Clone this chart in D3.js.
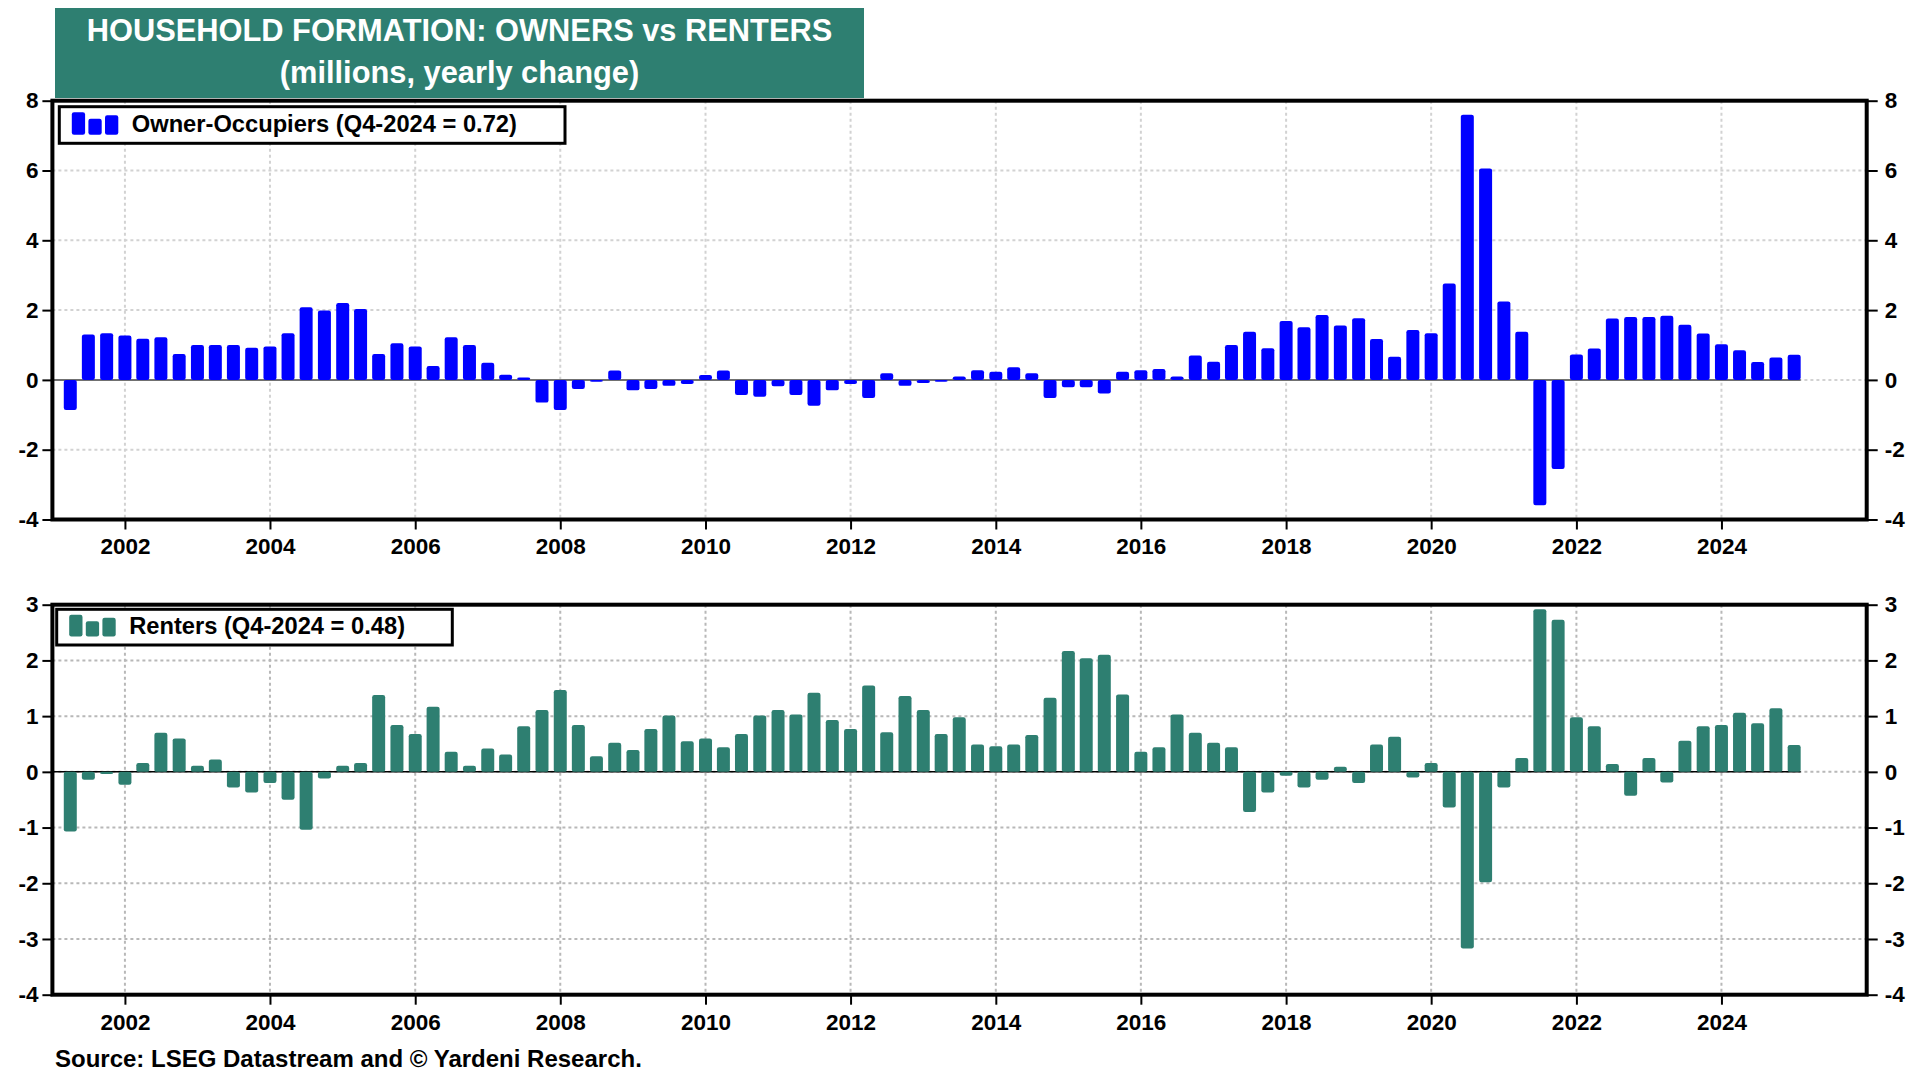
<!DOCTYPE html>
<html><head><meta charset="utf-8">
<script src="https://cdn.jsdelivr.net/npm/d3@7"></script>
<style>
html,body{margin:0;padding:0;background:#fff;}
svg{display:block;font-family:"Liberation Sans",Arial,Helvetica,sans-serif;}
</style></head><body>
<svg id="chart" width="1920" height="1080"></svg>
<script>
// ---------- DATA ----------
const quarters = [
"2001Q1","2001Q2","2001Q3","2001Q4","2002Q1","2002Q2","2002Q3","2002Q4",
"2003Q1","2003Q2","2003Q3","2003Q4","2004Q1","2004Q2","2004Q3","2004Q4",
"2005Q1","2005Q2","2005Q3","2005Q4","2006Q1","2006Q2","2006Q3","2006Q4",
"2007Q1","2007Q2","2007Q3","2007Q4","2008Q1","2008Q2","2008Q3","2008Q4",
"2009Q1","2009Q2","2009Q3","2009Q4","2010Q1","2010Q2","2010Q3","2010Q4",
"2011Q1","2011Q2","2011Q3","2011Q4","2012Q1","2012Q2","2012Q3","2012Q4",
"2013Q1","2013Q2","2013Q3","2013Q4","2014Q1","2014Q2","2014Q3","2014Q4",
"2015Q1","2015Q2","2015Q3","2015Q4","2016Q1","2016Q2","2016Q3","2016Q4",
"2017Q1","2017Q2","2017Q3","2017Q4","2018Q1","2018Q2","2018Q3","2018Q4",
"2019Q1","2019Q2","2019Q3","2019Q4","2020Q1","2020Q2","2020Q3","2020Q4",
"2021Q1","2021Q2","2021Q3","2021Q4","2022Q1","2022Q2","2022Q3","2022Q4",
"2023Q1","2023Q2","2023Q3","2023Q4","2024Q1","2024Q2","2024Q3","2024Q4"
];
const owners = [
-0.86, 1.30, 1.34, 1.27,   1.18, 1.22, 0.74, 1.00,
 1.00, 1.00, 0.92, 0.96,   1.34, 2.08, 1.99, 2.20,
 2.03, 0.74, 1.05, 0.96,   0.40, 1.22, 1.00, 0.49,
 0.15, 0.07,-0.65,-0.86,  -0.26,-0.05, 0.27,-0.30,
-0.26,-0.17,-0.12, 0.14,   0.27,-0.43,-0.48,-0.18,
-0.43,-0.74,-0.30,-0.12,  -0.52, 0.19,-0.17,-0.09,
-0.05, 0.10, 0.28, 0.23,   0.36, 0.19,-0.52,-0.21,
-0.21,-0.39, 0.23, 0.28,   0.31, 0.10, 0.70, 0.52,
 1.00, 1.38, 0.91, 1.69,   1.51, 1.86, 1.56, 1.77,
 1.17, 0.66, 1.43, 1.34,   2.76, 7.60, 6.06, 2.25,
 1.38,-3.59,-2.55, 0.73,   0.90, 1.76, 1.80, 1.80,
 1.84, 1.58, 1.33, 1.02,   0.85, 0.51, 0.64, 0.72
];
const renters = [
-1.07,-0.14,-0.04,-0.23,   0.16, 0.70, 0.60, 0.11,
 0.22,-0.28,-0.37,-0.20,  -0.50,-1.04,-0.12, 0.11,
 0.16, 1.38, 0.84, 0.68,   1.17, 0.36, 0.11, 0.42,
 0.31, 0.82, 1.11, 1.47,   0.84, 0.28, 0.52, 0.39,
 0.77, 1.01, 0.55, 0.60,   0.44, 0.68, 1.01, 1.11,
 1.03, 1.42, 0.93, 0.77,   1.55, 0.71, 1.36, 1.11,
 0.68, 0.98, 0.49, 0.46,   0.49, 0.66, 1.33, 2.17,
 2.04, 2.10, 1.39, 0.36,   0.44, 1.03, 0.70, 0.52,
 0.44,-0.72,-0.37,-0.07,  -0.28,-0.14, 0.09,-0.20,
 0.49, 0.63,-0.10, 0.16,  -0.64,-3.17,-1.98,-0.28,
 0.25, 2.92, 2.73, 0.98,   0.82, 0.14,-0.43, 0.25,
-0.19, 0.56, 0.82, 0.84,   1.06, 0.87, 1.14, 0.48
];
const ownerTicks = [-4,-2,0,2,4,6,8];
const renterTicks = [-4,-3,-2,-1,0,1,2,3];
const yearTicks = [2002,2004,2006,2008,2010,2012,2014,2016,2018,2020,2022,2024];
const titleLines = ["HOUSEHOLD FORMATION: OWNERS vs RENTERS","(millions, yearly change)"];
const ownerLegend = "Owner-Occupiers (Q4-2024 = 0.72)";
const renterLegend = "Renters (Q4-2024 = 0.48)";
const sourceText = "Source: LSEG Datastream and \u00A9 Yardeni Research.";

// ---------- LAYOUT ----------
const TEAL = "#2e7f71", BLUE = "#0000ff";
const X0 = 52.4, X1 = 1866.7;
const svg = d3.select("#chart");
svg.append("rect").attr("width",1920).attr("height",1080).attr("fill","#fff");

// quarter-end dates (bars plotted at end of each quarter)
const qDate = q => { const y = +q.slice(0,4), n = +q.slice(5); return new Date(Date.UTC(y, n*3, 1)); };
const x = d3.scaleUtc().domain([new Date(Date.UTC(2001,0,1)), new Date(Date.UTC(2026,0,1))]).range([X0, X1]);
const BW = 13;

function panel(cfg){
  const y = d3.scaleLinear().domain([cfg.ticks[0], cfg.ticks[cfg.ticks.length-1]]).range([cfg.bottom, cfg.top]);
  const g = svg.append("g");
  const inner = cfg.ticks.slice(1,-1);
  // horizontal grid
  g.append("g").selectAll("line").data(inner).join("line")
    .attr("x1", X0).attr("x2", X1).attr("y1", d=>y(d)).attr("y2", d=>y(d))
    .attr("stroke", cfg.grid).attr("stroke-width", 2).attr("stroke-dasharray","3,3");
  // vertical grid
  g.append("g").selectAll("line").data(yearTicks).join("line")
    .attr("x1", d=>x(new Date(Date.UTC(d,0,1)))).attr("x2", d=>x(new Date(Date.UTC(d,0,1))))
    .attr("y1", cfg.top).attr("y2", cfg.bottom)
    .attr("stroke", cfg.grid).attr("stroke-width", 2).attr("stroke-dasharray","3,3");
  // zero line over data range
  const lastX = x(qDate(quarters[quarters.length-1])) + BW/2;
  g.append("line").attr("x1", X0).attr("x2", lastX).attr("y1", y(0)).attr("y2", y(0))
    .attr("stroke", cfg.zero).attr("stroke-width", cfg.zeroW);
  // bars
  g.append("g").selectAll("rect").data(cfg.values).join("rect")
    .attr("x", (d,i)=> x(qDate(quarters[i])) - BW/2)
    .attr("y", d=> y(Math.max(0,d)))
    .attr("width", BW)
    .attr("height", d=> Math.max(1.5, Math.abs(y(d)-y(0))))
    .attr("rx", 2.2)
    .attr("fill", cfg.color);
  // axes
  const fmt = d => String(d);
  const styleAxis = sel => {
    sel.select(".domain").remove();
    sel.selectAll(".tick line").attr("stroke","#000").attr("stroke-width",2);
    sel.selectAll(".tick text").attr("fill","#000").attr("font-size",22.5).attr("font-weight","bold")
      .attr("font-family",'"Liberation Sans",Arial,sans-serif');
  };
  g.append("g").attr("transform",`translate(${X0},0)`)
    .call(d3.axisLeft(y).tickValues(cfg.ticks).tickSize(10).tickPadding(4).tickFormat(fmt)).call(styleAxis);
  g.append("g").attr("transform",`translate(${X1},0)`)
    .call(d3.axisRight(y).tickValues(cfg.ticks).tickSize(11).tickPadding(7).tickFormat(fmt)).call(styleAxis);
  g.append("g").attr("transform",`translate(0,${cfg.bottom})`)
    .call(d3.axisBottom(x).tickValues(yearTicks.map(d=>new Date(Date.UTC(d,0,1)))).tickSize(10).tickPadding(9).tickFormat(d3.utcFormat("%Y"))).call(styleAxis);
  // frame
  g.append("rect").attr("x", X0).attr("y", cfg.top).attr("width", X1-X0).attr("height", cfg.bottom-cfg.top)
    .attr("fill","none").attr("stroke","#000").attr("stroke-width",4);
  // legend
  const L = cfg.legend;
  g.append("rect").attr("x", L.x).attr("y", L.y).attr("width", L.w).attr("height", L.h)
    .attr("fill","#fff").attr("stroke","#000").attr("stroke-width",3);
  const icons = [[0, 0], [16.6, 6.5], [33.2, 3]];
  g.append("g").selectAll("rect").data(icons).join("rect")
    .attr("x", d=> L.x + 12.5 + d[0]).attr("y", d=> L.y + 5.5 + d[1])
    .attr("width", 13.3).attr("height", d=> L.h - 14 - d[1]).attr("rx", 2.2).attr("fill", cfg.color);
  g.append("text").attr("x", L.x + 72.5).attr("y", L.y + 25).text(L.text)
    .attr("font-size", 23.7).attr("font-weight","bold").attr("fill","#000");
}

panel({top:100.7, bottom:519.5, ticks:ownerTicks, values:owners, color:BLUE, grid:"#d2d2d2", zero:"#707070", zeroW:2,
  legend:{x:59.3, y:106.7, w:505.7, h:36.6, text:ownerLegend}});
panel({top:604.7, bottom:994.7, ticks:renterTicks, values:renters, color:TEAL, grid:"#b8b8b8", zero:"#000", zeroW:1.5,
  legend:{x:56.7, y:609.3, w:395.6, h:35.7, text:renterLegend}});

// title box
svg.append("rect").attr("x",55).attr("y",8).attr("width",809).attr("height",90).attr("fill",TEAL);
svg.selectAll("text.title").data(titleLines).join("text").attr("class","title")
  .attr("x", 459.5).attr("y", (d,i)=> i===0 ? 41 : 83).attr("text-anchor","middle")
  .attr("fill","#fff").attr("font-size",30.8).attr("font-weight","bold").text(d=>d);

// source
svg.append("text").attr("x",55).attr("y",1067).attr("font-size",24).attr("font-weight","bold")
  .attr("fill","#000").text(sourceText);
</script>
</body></html>
